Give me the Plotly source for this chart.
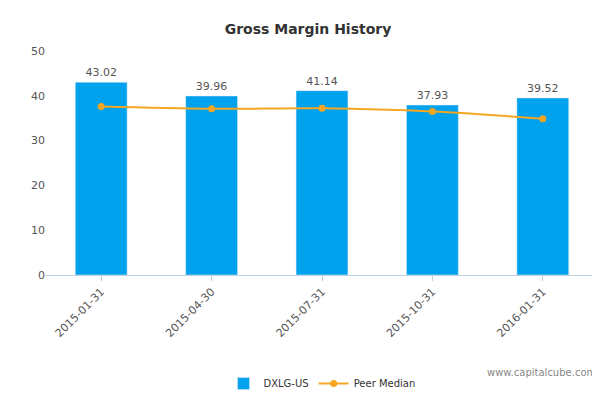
import plotly.graph_objects as go

dates = ['2015-01-31', '2015-04-30', '2015-07-31', '2015-10-31', '2016-01-31']
company = [43.02, 39.96, 41.14, 37.93, 39.52]
peer_median = [37.6, 37.1, 37.2, 36.5, 34.9]

fig = go.Figure()
fig.add_trace(go.Bar(
    x=dates, y=company, name='DXLG-US',
    marker_color='#00a2ed', width=0.47,
    text=[f'{v:.2f}' for v in company], textposition='outside',
    textfont=dict(size=11, color='#555555'), cliponaxis=False))
fig.add_trace(go.Scatter(
    x=dates, y=peer_median, name='Peer Median', mode='lines+markers',
    line=dict(color='#f5a623', width=2, shape='spline'),
    marker=dict(size=7, color='#f5a623')))

fig.update_layout(
    width=600, height=400,
    title=dict(text='<b>Gross Margin History</b>', x=0.5, y=0.96,
               font=dict(size=14, color='#333333')),
    font=dict(family='DejaVu Sans', size=11, color='#555555'),
    plot_bgcolor='white', paper_bgcolor='white',
    margin=dict(l=38, r=10, t=43, b=113),
    bargap=0.5,
    legend=dict(orientation='h', x=0.5, xanchor='center', y=-0.42,
                font=dict(size=10, color='#333333')),
    yaxis=dict(range=[0, 50], dtick=10, showgrid=False, zeroline=False,
               ticks='', tickfont=dict(size=11, color='#555555')),
    xaxis=dict(type='category', tickangle=-45, showline=True,
               linecolor='#c0d0e0', ticks='outside', tickcolor='#c0d0e0',
               tickfont=dict(size=11, color='#555555')),
)
fig.add_annotation(text='www.capitalcube.com', xref='paper', yref='paper',
                   x=1.0, y=-0.47, showarrow=False,
                   font=dict(size=10, color='#888888'), xanchor='right')

fig.write_html('out.html')
